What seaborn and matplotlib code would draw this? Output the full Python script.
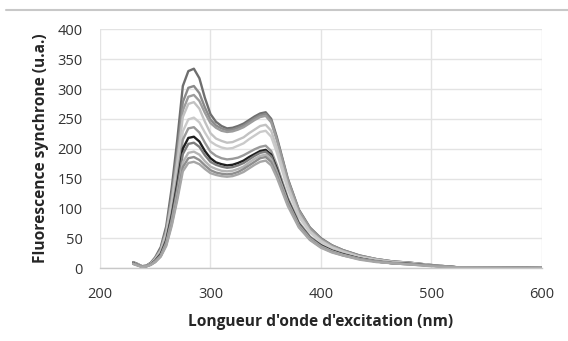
import numpy as np
import pandas as pd
import matplotlib
matplotlib.use("Agg")
import matplotlib.pyplot as plt
import seaborn as sns
from matplotlib.lines import Line2D

wavelength = [230, 234, 238, 242, 246, 250, 255, 260, 265, 270, 275, 280, 285, 290, 295, 300,
              305, 310, 315, 320, 325, 330, 335, 340, 345, 350, 355, 360, 365, 370, 380, 390,
              400, 410, 420, 435, 450, 465, 480, 500, 525, 600]

s_a = [10, 7, 3, 4, 9, 18, 35, 70, 135, 215, 305, 330, 334, 318, 285, 258, 245, 238, 234, 235, 238,
       242, 248, 254, 259, 261, 250, 220, 185, 150, 98, 68, 50, 38, 30, 21, 15, 11, 9, 5, 1, 0]
s_b = [9, 6, 3, 4, 8, 16, 32, 64, 122, 195, 278, 302, 305, 293, 269, 249, 239, 234, 231, 232, 235,
       239, 245, 251, 256, 258, 247, 217, 183, 148, 97, 67, 49, 38, 30, 21, 15, 11, 9, 5, 1, 0]
s_c = [9, 6, 3, 3, 8, 16, 30, 61, 116, 186, 264, 287, 290, 280, 260, 243, 235, 230, 228, 229, 232,
       236, 242, 248, 253, 255, 244, 215, 181, 147, 96, 66, 48, 37, 29, 20, 15, 11, 9, 5, 1, 0]
s_d = [8, 6, 3, 3, 7, 15, 29, 58, 111, 178, 253, 275, 278, 267, 245, 226, 217, 213, 210, 211, 215,
       219, 226, 232, 238, 240, 230, 202, 170, 138, 90, 62, 46, 35, 28, 19, 14, 10, 8, 5, 1, 0]
s_e = [8, 5, 3, 3, 7, 14, 26, 53, 101, 161, 229, 249, 252, 244, 227, 212, 206, 202, 200, 201, 205,
       209, 216, 222, 228, 230, 220, 194, 163, 132, 86, 60, 44, 34, 26, 18, 13, 10, 8, 4, 1, 0]
s_f = [9, 6, 3, 3, 7, 13, 25, 50, 94, 151, 215, 234, 236, 227, 210, 195, 188, 184, 182, 183, 185,
       189, 194, 199, 203, 205, 196, 173, 145, 118, 77, 53, 39, 30, 24, 16, 12, 9, 7, 4, 1, 0]
s_g = [8, 5, 2, 3, 6, 12, 23, 46, 88, 141, 200, 218, 220, 212, 196, 184, 177, 174, 172, 173, 176,
       180, 186, 191, 196, 198, 190, 167, 140, 114, 74, 51, 38, 29, 23, 16, 11, 8, 7, 4, 1, 0]
s_h = [8, 5, 2, 3, 6, 11, 22, 44, 84, 134, 191, 208, 210, 203, 189, 178, 173, 170, 168, 169, 172,
       176, 182, 188, 193, 195, 187, 164, 138, 112, 73, 51, 37, 28, 22, 16, 11, 8, 7, 4, 1, 0]
s_i = [7, 5, 2, 3, 6, 11, 20, 41, 78, 125, 177, 193, 195, 190, 179, 170, 166, 163, 162, 163, 166,
       170, 177, 183, 188, 190, 182, 160, 135, 109, 71, 49, 36, 28, 22, 15, 11, 8, 6, 4, 1, 0]
s_j = [7, 5, 2, 3, 6, 10, 20, 39, 74, 119, 169, 184, 186, 181, 172, 164, 160, 158, 157, 158, 161,
       166, 172, 178, 184, 186, 178, 157, 132, 107, 70, 48, 35, 27, 21, 15, 11, 8, 6, 4, 1, 0]
s_k = [7, 4, 2, 3, 5, 10, 19, 37, 71, 114, 162, 176, 178, 174, 166, 159, 156, 154, 153, 154, 157,
       161, 167, 173, 178, 180, 172, 152, 128, 104, 68, 47, 34, 26, 21, 14, 10, 8, 6, 3, 1, 0]

series_names = ["A", "B", "C", "D", "E", "F", "G", "H", "I", "J", "K"]
series_values = [s_a, s_b, s_c, s_d, s_e, s_f, s_g, s_h, s_i, s_j, s_k]
colors = ["#6e6e6e", "#8a8a8a", "#9c9c9c", "#c2c2c2", "#cacaca", "#9a9a9a",
          "#1e1e1e", "#7c7c7c", "#b4b4b4", "#8e8e8e", "#a6a6a6"]

x_ticks = [200, 300, 400, 500, 600]
y_ticks = [0, 50, 100, 150, 200, 250, 300, 350, 400]

rows = []
for name, vals in zip(series_names, series_values):
    for w, v in zip(wavelength, vals):
        rows.append({"nm": w, "val": v, "serie": name})
df = pd.DataFrame(rows)

sns.set_theme(style="white")
plt.rcParams["font.family"] = ["Open Sans", "DejaVu Sans"]

fig = plt.figure(figsize=(5.68, 3.41), dpi=100)
ax = fig.add_axes([0.176, 0.214, 0.778, 0.700])

sns.lineplot(data=df, x="nm", y="val", hue="serie", palette=colors, linewidth=1.7,
             legend=False, ax=ax, sort=False)

ax.set_xlim(200, 600)
ax.set_ylim(0, 400)
ax.set_xticks(x_ticks)
ax.set_yticks(y_ticks)
ax.grid(True, color="#e3e3e3", linewidth=1.0)
ax.set_axisbelow(True)
for side in ["top", "left", "right"]:
    ax.spines[side].set_visible(False)
ax.spines["bottom"].set_color("#c8c8c8")
ax.spines["bottom"].set_linewidth(1.0)
ax.tick_params(axis="both", length=0, labelsize=10.5, labelcolor="#333333")
ax.tick_params(axis="x", pad=14)
ax.tick_params(axis="y", pad=12.5)

ax.set_xlabel("Longueur d'onde d'excitation (nm)", fontsize=11.2, fontweight="bold",
              color="#262626", labelpad=8)
ax.set_ylabel("Fluorescence synchrone (u.a.)", fontsize=11.2, fontweight="bold",
              color="#262626", labelpad=6)

fig.add_artist(Line2D([0.011, 1.0], [0.972, 0.972], color="#c8c8c8", linewidth=1.5,
                      transform=fig.transFigure))

fig.savefig("out.png", dpi=100)
